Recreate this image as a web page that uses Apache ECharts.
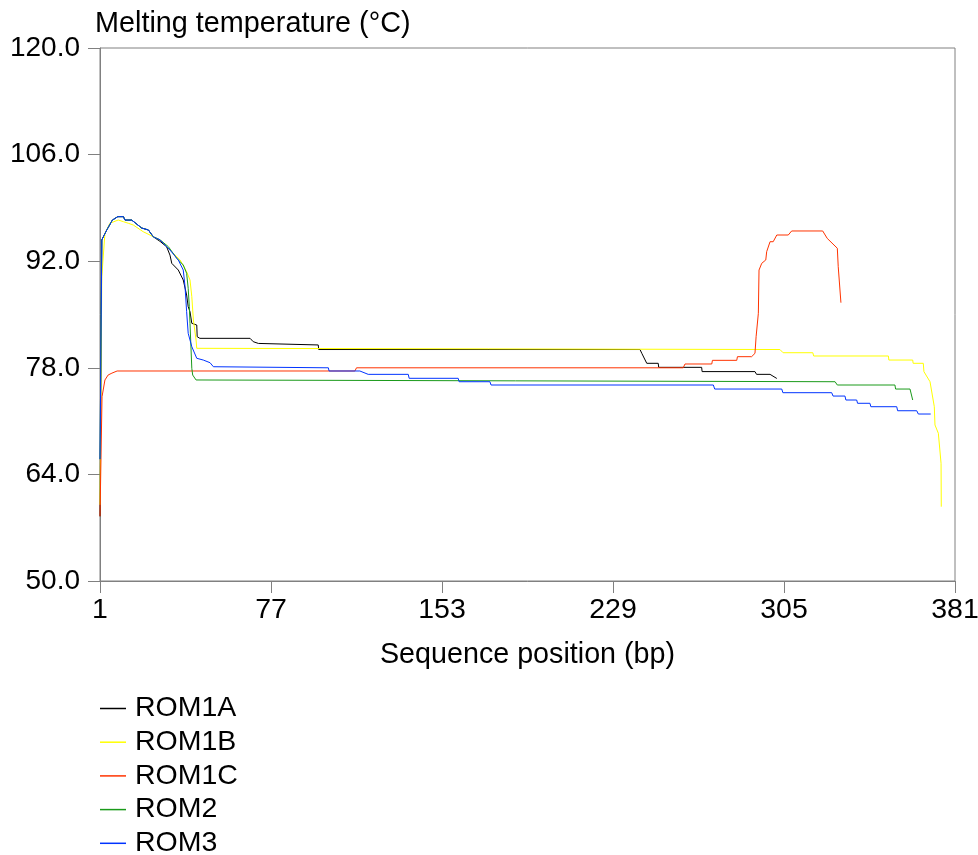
<!DOCTYPE html>
<html>
<head>
<meta charset="utf-8">
<script src="https://cdn.jsdelivr.net/npm/echarts@6/dist/echarts.min.js"></script>
<style>
html,body{margin:0;padding:0;background:#fff;}
#chart{width:978px;height:855px;}
</style>
</head>
<body>
<div id="chart"></div>
<script>
// ---- data (sequence position bp, melting temperature °C) ----
const seriesNames = ['ROM1A', 'ROM1B', 'ROM1C', 'ROM2', 'ROM3'];
const xTicks = [1, 77, 153, 229, 305, 381];
const yTicks = [50, 64, 78, 92, 106, 120];

const rom1a = [[1,58.5],[1.8,94.8],[4,96.1],[6.5,97.4],[8.9,97.85],[11.4,97.85],[12.1,97.4],[15.1,97.4],[19.5,96.36],[22.5,96.1],[24.7,95.2],[27.7,94.6],[28.4,94.35],[30.6,93.9],[32.1,92.8],[32.9,91.72],[35.8,90.84],[38,89.53],[39.5,87.56],[40.2,86.02],[41,85.37],[41.8,83.84],[44,83.62],[44.2,82.08],[45.4,81.87],[67.7,81.87],[69.1,81.43],[71.4,81.2],[72.1,81.0],[98,81.0],[98.2,80.4],[241,80.4],[241.8,79.9],[244,78.59],[249.1,78.59],[249.3,78.06],[268.4,78.06],[268.6,77.5],[292.1,77.5],[292.8,77.14],[298.8,77.14],[301.8,76.6]];

const rom1b = [[1,60],[1.8,90],[3.2,95.66],[5.4,96.98],[9.1,97.41],[11.4,97.19],[13.6,96.98],[15.8,96.75],[20.2,95.87],[24.7,95.22],[27.7,94.8],[32.1,93.47],[36.6,92.16],[39.5,90.62],[41,89.53],[41.8,87.34],[42.5,84.28],[43.7,81.65],[44,80.56],[44.6,80.4],[303.2,80.4],[304.6,79.98],[317.8,79.98],[318.2,79.55],[351.4,79.55],[351.6,79.02],[362.2,79.02],[362.4,78.59],[366.9,78.59],[367.2,77.49],[369.9,76.17],[371.8,72.89],[372.1,70.49],[373.6,69.4],[374.8,65.46],[374.9,59.76]];

const rom1c = [[1,58.5],[1.9,74.2],[3.2,76.4],[4.6,77.05],[6.3,77.3],[8.6,77.58],[114.3,77.58],[115,78.0],[260.2,78.0],[261,78.5],[272.9,78.5],[273.2,78.98],[284,78.98],[284.3,79.46],[290.6,79.46],[292.1,79.9],[292.6,82.08],[293.6,85.16],[293.9,90.84],[295.1,91.72],[296.9,92.16],[297.3,93.25],[298.8,94.56],[300.2,94.56],[301.8,95.44],[306.9,95.44],[308.4,95.97],[322.2,95.97],[324.2,95.0],[328.7,93.7],[329.1,91.28],[330.3,86.55]];

const rom2 = [[1,66],[1.8,94.8],[4,96.1],[6.5,97.4],[8.9,97.85],[11.4,97.85],[12.1,97.4],[15.1,97.4],[19.5,96.36],[22.5,96.1],[24.7,95.2],[27.7,94.8],[31.4,93.9],[35.1,92.38],[38,91.5],[39.5,90.41],[40.2,88.44],[40.7,86.02],[41,83.84],[41.8,77.93],[42.2,77.05],[43.7,76.4],[44.1,76.17],[327.7,76.17],[328.7,75.74],[354.3,75.74],[354.6,75.21],[361,75.21],[362.2,73.77]];

const rom3 = [[1,66],[1.8,94.8],[4,96.1],[6.5,97.4],[8.9,97.85],[11.4,97.85],[12.1,97.4],[15.1,97.4],[19.5,96.36],[22.5,96.1],[24.7,95.2],[27.7,94.8],[29.1,94.35],[32.1,93.47],[35.8,92.16],[38,90.84],[38.8,88.65],[39.5,85.37],[40.2,82.53],[41.8,80.77],[44,79.25],[46.9,79.02],[49.9,78.67],[51.4,78.14],[52.1,78.0],[102.5,78.0],[102.8,77.58],[116.5,77.58],[120.2,77.14],[138,77.14],[138.4,76.62],[160.2,76.62],[160.6,76.17],[174.3,76.17],[174.8,75.74],[273.6,75.74],[274.2,75.21],[304,75.21],[304.5,74.73],[326.2,74.73],[326.8,74.29],[332.1,74.29],[332.5,73.77],[337.3,73.77],[337.7,73.34],[343.2,73.34],[343.6,72.89],[355.1,72.89],[355.5,72.36],[364,72.36],[364.7,71.93],[370.2,71.93]];

const seriesData = [rom1a, rom1b, rom1c, rom2, rom3];
const seriesColors = ['#000000', '#FFFF00', '#FF3300', '#1A9A1A', '#0033FF'];

// ---- chart ----
const FONT = '"Liberation Sans", Arial, sans-serif';
const AX = '#808080';
const chart = echarts.init(document.getElementById('chart'), null, {renderer: 'canvas'});

chart.setOption({
  animation: false,
  backgroundColor: '#ffffff',
  textStyle: {fontFamily: FONT},
  title: {
    text: 'Melting temperature (°C)',
    left: 95, top: 10, padding: 0,
    textStyle: {fontFamily: FONT, fontSize: 28.8, fontWeight: 'normal', color: '#000'}
  },
  grid: {
    left: 100, right: 23, top: 48, bottom: 274,
    outerBoundsMode: 'none', containLabel: false,
    show: true, borderColor: AX, borderWidth: 1, backgroundColor: 'transparent'
  },
  legend: {
    orient: 'vertical', left: 100, top: 694, padding: 0,
    width: 300, height: 300,
    itemWidth: 26, itemHeight: 1.5, itemGap: 4.7,
    icon: 'rect',
    data: seriesNames,
    textStyle: {fontFamily: FONT, fontSize: 28.5, lineHeight: 28, color: '#000', padding: [0, 0, 0, 4]}
  },
  xAxis: {
    type: 'value', min: xTicks[0], max: xTicks[xTicks.length - 1], interval: 76,
    name: 'Sequence position (bp)', nameLocation: 'middle', nameGap: 60,
    nameTextStyle: {fontFamily: FONT, fontSize: 28.7, color: '#000'},
    axisLine: {show: true, lineStyle: {color: AX, width: 1}},
    axisTick: {show: true, inside: false, length: 12, lineStyle: {color: AX}},
    axisLabel: {fontFamily: FONT, fontSize: 28.5, color: '#000', margin: 15,
      formatter: v => String(Math.round(v))},
    splitLine: {show: false}
  },
  yAxis: {
    type: 'value', min: yTicks[0], max: yTicks[yTicks.length - 1], interval: 14,
    axisLine: {show: true, lineStyle: {color: AX, width: 1}},
    axisTick: {show: true, inside: false, length: 12, lineStyle: {color: AX}},
    axisLabel: {fontFamily: FONT, fontSize: 28, color: '#000', margin: 20,
      formatter: v => v.toFixed(1)},
    splitLine: {show: false}
  },
  series: seriesNames.map((n, i) => ({
    name: n, type: 'line', data: seriesData[i],
    symbol: 'none', showSymbol: false, smooth: false,
    lineStyle: {color: seriesColors[i], width: 1},
    itemStyle: {color: seriesColors[i]},
    emphasis: {disabled: true}
  }))
});
</script>
</body>
</html>
